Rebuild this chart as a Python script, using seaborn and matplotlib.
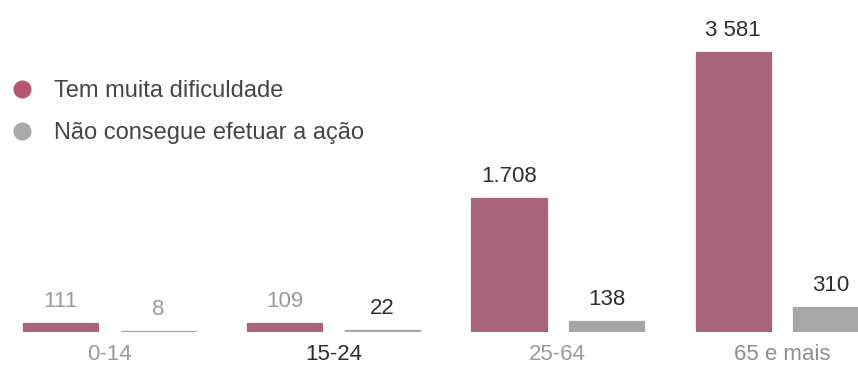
import matplotlib
matplotlib.use("Agg")
import matplotlib.pyplot as plt
import seaborn as sns
import pandas as pd
from matplotlib.lines import Line2D

# Data: population with difficulty, by age group
age_groups = ["0-14", "15-24", "25-64", "65 e mais"]
series_names = ["Tem muita dificuldade", "Não consegue efetuar a ação"]
muita_dificuldade = [111, 109, 1708, 3581]
nao_consegue = [8, 22, 138, 310]
labels_dificuldade = ["111", "109", "1.708", "3 581"]
labels_nao_consegue = ["8", "22", "138", "310"]

df = pd.DataFrame({
    "grupo": age_groups * 2,
    "valor": muita_dificuldade + nao_consegue,
    "serie": [series_names[0]] * len(age_groups) + [series_names[1]] * len(age_groups),
})

PINK = "#A7647A"
GREY = "#A6A6A6"
LEG_PINK = "#B4566F"
LEG_GREY = "#A8AAAC"
LIGHT_TXT = "#9A9A9A"
DARK_TXT = "#2E2E2E"

sns.set_theme(style="white")
plt.rcParams["font.family"] = ["Liberation Sans", "DejaVu Sans"]

fig = plt.figure(figsize=(8.58, 3.70), dpi=100)
ax = fig.add_axes([0, 38.3 / 370, 1, 331.7 / 370])

sns.barplot(data=df, x="grupo", y="valor", hue="serie", order=age_groups,
            hue_order=series_names, palette=[PINK, GREY], saturation=1,
            width=0.87, gap=0.23, legend=False, ax=ax)

# thin outline in the bar colour so very small values stay visible
for p in ax.patches:
    p.set_edgecolor(p.get_facecolor())
    p.set_linewidth(0.9)

ax.set_xlim(-0.489, 3.34)
ax.set_ylim(0, 4242)

# value labels above each bar
label_colors = [
    [LIGHT_TXT, LIGHT_TXT, DARK_TXT, DARK_TXT],
    [LIGHT_TXT, DARK_TXT, DARK_TXT, DARK_TXT],
]
for cont, labels, colors in zip(ax.containers, [labels_dificuldade, labels_nao_consegue], label_colors):
    texts = ax.bar_label(cont, labels=labels, padding=8, fontsize=16)
    for t, c in zip(texts, colors):
        t.set_color(c)

# category labels
ax.set_xlabel("")
ax.set_ylabel("")
ax.set_yticks([])
ax.tick_params(axis="x", length=0, pad=9, labelsize=16)
tick_colors = [LIGHT_TXT, DARK_TXT, LIGHT_TXT, "#8E8E8E"]
for t, c in zip(ax.get_xticklabels(), tick_colors):
    t.set_color(c)

for s in ax.spines.values():
    s.set_visible(False)

# legend with round markers
handles = [
    Line2D([], [], linestyle="none", marker="o", markersize=13,
           markerfacecolor=LEG_PINK, markeredgecolor="none"),
    Line2D([], [], linestyle="none", marker="o", markersize=13,
           markerfacecolor=LEG_GREY, markeredgecolor="none"),
]
leg = fig.legend(handles, series_names, loc="upper left",
                 bbox_to_anchor=(10 / 858, 1 - 80 / 370), frameon=False,
                 fontsize=17, handlelength=1.0, handletextpad=0.85,
                 borderpad=0, borderaxespad=0, labelspacing=0.85)
for t in leg.get_texts():
    t.set_color("#454545")

fig.savefig("out.png", dpi=100)
